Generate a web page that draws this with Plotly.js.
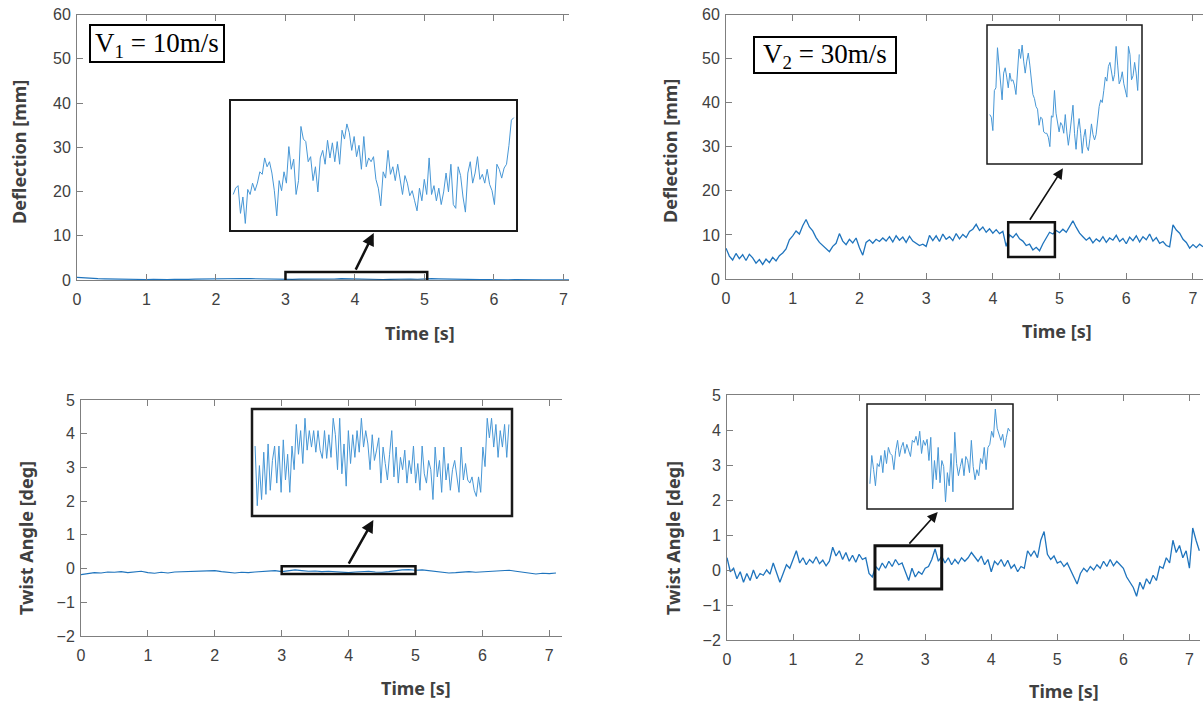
<!DOCTYPE html>
<html>
<head>
<meta charset="utf-8">
<script src="https://cdn.plot.ly/plotly-3.0.1.min.js"></script>
<style>html,body{margin:0;padding:0;background:#fff;}#chart{width:1203px;height:706px;}</style>
</head>
<body>
<div id="chart"></div>
<script>
// ---------- data ----------
// V1 = 10 m/s, deflection [mm], sampled every 0.1 s
const defV1 = [0.60,0.45,0.40,0.30,0.25,0.20,0.22,0.15,0.20,0.12,
0.10,0.15,0.10,0.12,0.18,0.10,0.15,0.20,0.22,0.25,
0.30,0.35,0.45,0.40,0.35,0.30,0.25,0.20,0.15,0.12,
0.10,0.15,0.20,0.18,0.25,0.20,0.28,0.22,0.30,0.25,
0.20,0.15,0.22,0.18,0.12,0.15,0.20,0.25,0.22,0.18,
0.28,0.30,0.25,0.20,0.22,0.15,0.12,0.10,0.08,0.10,
0.05,0.08,0.06,0.10,0.05,0.04,0.08,0.05,0.06,0.10,
0.08,0.05];
// V2 = 30 m/s, deflection [mm], sampled every 0.05 s
const defV2 = [7.0,5.2,4.3,5.8,4.6,5.5,4.2,5.6,4.8,3.6,
4.4,3.3,4.5,3.7,4.9,4.1,5.3,5.9,6.8,8.9,
9.8,10.9,10.2,12.1,13.5,11.8,10.9,9.4,8.3,7.6,
6.9,6.2,7.4,8.1,10.3,8.6,7.8,9.0,8.2,9.3,
7.1,5.4,8.3,8.9,8.1,9.0,8.5,9.3,8.6,9.6,
8.4,9.8,8.8,9.5,8.3,9.7,8.6,8.0,7.6,7.9,
7.4,9.9,8.7,9.8,8.5,10.2,9.0,9.6,8.7,10.3,
9.1,10.1,9.4,10.8,11.3,12.4,11.0,11.8,10.6,11.4,
10.4,11.2,10.3,10.8,7.4,10.0,9.4,10.3,9.1,8.6,
7.6,7.9,6.6,7.2,6.4,8.0,9.3,10.6,10.2,11.0,
10.5,11.3,10.6,11.8,13.2,11.7,10.4,9.6,8.8,9.4,
8.2,9.1,8.5,9.6,8.3,9.3,8.8,9.9,8.5,9.2,
8.0,9.5,8.7,9.8,8.4,9.6,8.9,10.2,8.6,9.4,
8.1,8.5,7.6,7.3,12.3,11.1,10.4,9.0,8.3,7.0,
7.8,7.1,7.9,7.3];
// V1 twist angle [deg], every 0.1 s
const twV1 = [-0.18,-0.14,-0.12,-0.13,-0.10,-0.11,-0.09,-0.12,-0.10,-0.08,
-0.12,-0.14,-0.11,-0.13,-0.10,-0.09,-0.08,-0.07,-0.06,-0.05,
-0.06,-0.09,-0.12,-0.13,-0.11,-0.12,-0.10,-0.08,-0.07,-0.06,
-0.09,-0.07,-0.04,-0.06,-0.08,-0.07,-0.09,-0.08,-0.10,-0.11,
-0.12,-0.10,-0.09,-0.08,-0.10,-0.11,-0.09,-0.06,-0.04,-0.03,
-0.05,-0.04,-0.06,-0.08,-0.11,-0.13,-0.12,-0.10,-0.09,-0.11,
-0.10,-0.08,-0.06,-0.07,-0.05,-0.08,-0.10,-0.12,-0.16,-0.14,
-0.15,-0.13];
// V2 twist angle [deg], every 0.05 s
const twV2 = [0.35,-0.05,0.05,-0.25,-0.05,-0.35,-0.10,-0.30,0.00,-0.25,
-0.10,-0.15,0.00,-0.12,0.20,-0.05,-0.35,-0.10,0.15,0.05,
0.30,0.55,0.20,0.35,0.15,0.30,0.20,0.38,0.18,0.28,
0.12,0.25,0.65,0.40,0.55,0.30,0.50,0.25,0.42,0.22,
0.45,0.30,0.35,-0.10,-0.20,0.10,0.00,0.20,0.05,0.25,
0.10,0.30,0.15,0.20,-0.05,-0.30,0.05,-0.20,-0.05,-0.12,
0.05,0.10,0.30,0.60,0.25,0.40,0.20,0.35,0.15,0.30,
0.18,0.35,0.25,0.35,0.50,0.38,0.25,0.40,0.15,0.30,
-0.05,0.25,0.15,0.30,0.10,0.28,0.05,0.15,-0.05,0.10,
0.05,0.55,0.40,0.55,0.35,0.85,1.10,0.45,0.30,0.40,
0.20,0.25,0.10,0.20,0.00,-0.15,-0.40,-0.10,0.05,-0.05,
0.10,0.00,0.15,0.05,0.25,0.10,0.30,0.12,0.25,0.15,
0.05,-0.20,-0.35,-0.50,-0.75,-0.35,-0.55,-0.25,-0.40,-0.15,
-0.30,0.10,0.05,0.35,0.20,0.85,0.50,0.70,0.35,0.55,
0.05,1.20,0.85,0.55];
// zoomed insets (relative height inside each inset box, 0 = bottom, 1 = top)
const insetDefV1 = [0.27,0.32,0.34,0.12,0.25,0.04,0.31,0.27,0.36,0.30,0.36,0.45,0.43,0.56,0.49,0.53,0.44,0.30,0.10,0.38,0.30,0.45,0.36,0.65,0.47,0.55,0.27,0.38,0.81,0.71,0.69,0.53,0.57,0.38,0.49,0.29,0.56,0.62,0.51,0.70,0.56,0.68,0.53,0.69,0.51,0.78,0.71,0.83,0.76,0.62,0.73,0.57,0.66,0.47,0.73,0.49,0.56,0.53,0.57,0.39,0.32,0.18,0.45,0.40,0.62,0.43,0.49,0.38,0.51,0.40,0.27,0.42,0.36,0.26,0.30,0.22,0.14,0.32,0.22,0.39,0.27,0.56,0.27,0.34,0.22,0.32,0.19,0.29,0.44,0.29,0.51,0.19,0.16,0.49,0.42,0.25,0.13,0.44,0.53,0.36,0.44,0.57,0.39,0.43,0.36,0.47,0.35,0.30,0.19,0.51,0.47,0.40,0.48,0.51,0.66,0.86,0.88];
const insetDefV2 = [0.35,0.33,0.23,0.53,0.55,0.85,0.72,0.58,0.46,0.66,0.70,0.63,0.55,0.66,0.60,0.61,0.57,0.50,0.72,0.84,0.77,0.87,0.75,0.66,0.75,0.81,0.72,0.58,0.50,0.47,0.41,0.39,0.27,0.33,0.32,0.22,0.21,0.21,0.18,0.11,0.34,0.33,0.53,0.36,0.27,0.22,0.29,0.27,0.21,0.35,0.22,0.12,0.21,0.32,0.42,0.21,0.09,0.24,0.32,0.21,0.06,0.18,0.24,0.11,0.08,0.17,0.28,0.20,0.16,0.20,0.32,0.41,0.46,0.44,0.53,0.63,0.60,0.71,0.74,0.67,0.60,0.65,0.86,0.72,0.58,0.61,0.67,0.58,0.52,0.48,0.86,0.80,0.61,0.64,0.74,0.66,0.53,0.80];
const insetTwV1 = [0.66,0.08,0.47,0.14,0.60,0.19,0.68,0.23,0.52,0.66,0.30,0.66,0.21,0.72,0.33,0.58,0.21,0.66,0.43,0.87,0.58,0.81,0.49,0.93,0.62,0.81,0.65,0.81,0.60,0.81,0.62,0.54,0.81,0.54,0.77,0.55,0.93,0.77,0.43,0.93,0.39,0.68,0.27,0.81,0.49,0.77,0.55,0.81,0.60,0.93,0.65,0.81,0.68,0.43,0.77,0.52,0.62,0.74,0.30,0.65,0.49,0.33,0.58,0.81,0.36,0.65,0.30,0.55,0.43,0.62,0.30,0.52,0.39,0.66,0.30,0.49,0.23,0.66,0.39,0.30,0.52,0.43,0.14,0.65,0.36,0.52,0.21,0.65,0.33,0.49,0.23,0.43,0.52,0.36,0.21,0.65,0.33,0.49,0.33,0.30,0.36,0.23,0.17,0.36,0.21,0.65,0.46,0.93,0.74,0.93,0.65,0.87,0.55,0.81,0.65,0.87,0.55,0.87];
const insetTwV2 = [0.23,0.51,0.37,0.21,0.43,0.40,0.51,0.34,0.56,0.43,0.59,0.53,0.51,0.37,0.56,0.66,0.50,0.59,0.64,0.53,0.62,0.56,0.50,0.66,0.64,0.70,0.61,0.75,0.53,0.66,0.61,0.67,0.46,0.69,0.18,0.46,0.27,0.59,0.24,0.46,0.40,0.05,0.34,0.21,0.53,0.15,0.74,0.43,0.31,0.40,0.48,0.31,0.50,0.46,0.34,0.66,0.40,0.27,0.37,0.31,0.48,0.43,0.59,0.37,0.59,0.62,0.75,0.69,0.97,0.78,0.72,0.66,0.72,0.59,0.69,0.78,0.75];
const xTicks = [0,1,2,3,4,5,6,7];
const xTickText = ['0','1','2','3','4','5','6','7'];
const defTicks = [0,10,20,30,40,50,60];
const twTicks = [-2,-1,0,1,2,3,4,5];
const labelV1 = 'V<sub>1</sub> = 10m/s';
const labelV2 = 'V<sub>2</sub> = 30m/s';
const yTitleDef = 'Deflection [mm]';
const yTitleTw = 'Twist Angle [deg]';
const xTitle = 'Time [s]';

// ---------- layout helpers ----------
const W = 1203, H = 706;
const px = x => x / W;
const py = y => 1 - y / H;
const LINE = '#1f74bd';
const INSET = '#4797d6';
const GRAY = '#7f7f7f';
const TXT = '#404040';
const tickFont = {family: 'Liberation Sans, Arial, sans-serif', size: 16, color: TXT};

function xa(d, r, anchor) {
  return {domain: d, range: r, anchor: anchor, tickvals: xTicks, ticktext: xTickText,
    showline: true, linecolor: GRAY, linewidth: 1, mirror: 'ticks', ticks: 'inside', ticklen: 6,
    tickcolor: GRAY, tickfont: tickFont, showgrid: false, zeroline: false, ticklabelstandoff: 5, fixedrange: true};
}
function ya(d, r, tv, anchor) {
  return {domain: d, range: r, anchor: anchor, tickvals: tv, showline: true, linecolor: GRAY, linewidth: 1,
    ticks: 'inside', ticklen: 6, tickcolor: GRAY, tickfont: tickFont, showgrid: false, zeroline: false,
    ticklabelstandoff: 2, fixedrange: true};
}
function hid(d, r, anchor) {
  return {domain: d, range: r, anchor: anchor, visible: false, fixedrange: true};
}

const traces = [
  {y: defV1, x0: 0, dx: 0.1, xaxis: 'x', yaxis: 'y', mode: 'lines', line: {color: LINE, width: 1.1}},
  {y: defV2, x0: 0, dx: 0.05, xaxis: 'x2', yaxis: 'y2', mode: 'lines', line: {color: LINE, width: 1.3}},
  {y: twV1, x0: 0, dx: 0.1, xaxis: 'x3', yaxis: 'y3', mode: 'lines', line: {color: LINE, width: 1.1}},
  {y: twV2, x0: 0, dx: 0.05, xaxis: 'x4', yaxis: 'y4', mode: 'lines', line: {color: LINE, width: 1.3}},
  {y: insetDefV1, x0: 0, dx: 1, xaxis: 'x5', yaxis: 'y5', mode: 'lines', line: {color: INSET, width: 1}},
  {y: insetDefV2, x0: 0, dx: 1, xaxis: 'x6', yaxis: 'y6', mode: 'lines', line: {color: INSET, width: 1}},
  {y: insetTwV1, x0: 0, dx: 1, xaxis: 'x7', yaxis: 'y7', mode: 'lines', line: {color: INSET, width: 1}},
  {y: insetTwV2, x0: 0, dx: 1, xaxis: 'x8', yaxis: 'y8', mode: 'lines', line: {color: INSET, width: 1}}
];

// inset boxes in pixels [x0, x1, y0, y1]
const insetBoxes = [[230, 517, 100, 231], [987, 1142, 25, 164], [252, 512, 409, 516], [867, 1013, 404, 509]];
const insetWidths = [2, 1.5, 2.5, 1.5];
const insetData = [insetDefV1, insetDefV2, insetTwV1, insetTwV2];

const layout = {
  width: W, height: H, margin: {l: 0, r: 0, t: 0, b: 0},
  paper_bgcolor: '#fff', plot_bgcolor: 'rgba(0,0,0,0)', showlegend: false,
  xaxis: xa([px(77), px(569)], [0, 7.08], 'y'),
  yaxis: ya([py(280), py(14.5)], [0, 60], defTicks, 'x'),
  xaxis2: xa([px(726), 1], [0, 7.15], 'y2'),
  yaxis2: ya([py(279), py(14.5)], [0, 60], defTicks, 'x2'),
  xaxis3: xa([px(81), px(562)], [0, 7.19], 'y3'),
  yaxis3: ya([py(636), py(400)], [-2, 5], twTicks, 'x3'),
  xaxis4: xa([px(727), px(1200)], [0, 7.16], 'y4'),
  yaxis4: ya([py(640), py(395)], [-2, 5], twTicks, 'x4'),
  shapes: [], annotations: []
};
insetBoxes.forEach((b, i) => {
  const n = insetData[i].length;
  layout['xaxis' + (5 + i)] = hid([px(b[0] + 2), px(b[1] - 2)], [-0.5, n - 0.5], 'y' + (5 + i));
  layout['yaxis' + (5 + i)] = hid([py(b[3]), py(b[2])], [-0.02, 1.02], 'x' + (5 + i));
  layout.shapes.push({type: 'rect', xref: 'paper', yref: 'paper', x0: px(b[0]), x1: px(b[1]), y0: py(b[3]), y1: py(b[2]),
    line: {color: '#1a1a1a', width: insetWidths[i]}, fillcolor: 'rgba(0,0,0,0)', layer: 'above'});
});

// zoom rectangles in data coordinates
const zoomRects = [
  {xref: 'x', yref: 'y', x0: 3.0, x1: 5.04, y0: -0.2, y1: 1.8, w: 2.5},
  {xref: 'x2', yref: 'y2', x0: 4.23, x1: 4.93, y0: 5.0, y1: 12.9, w: 2.5},
  {xref: 'x3', yref: 'y3', x0: 3.0, x1: 5.0, y0: -0.16, y1: 0.07, w: 2.5},
  {xref: 'x4', yref: 'y4', x0: 2.24, x1: 3.25, y0: -0.54, y1: 0.69, w: 3}
];
zoomRects.forEach(r => layout.shapes.push({type: 'rect', xref: r.xref, yref: r.yref, x0: r.x0, x1: r.x1, y0: r.y0, y1: r.y1,
  line: {color: '#111', width: r.w}, fillcolor: 'rgba(0,0,0,0)', layer: 'above'}));

// arrows: tail -> head (data coords)
const arrows = [
  {xr: 'x', yr: 'y', ax: 4.0, ay: 2.0, x: 4.27, y: 10.6, w: 2.5, s: 1.0},
  {xr: 'x2', yr: 'y2', ax: 4.54, ay: 13.1, x: 5.05, y: 25.1, w: 1.6, s: 1.3},
  {xr: 'x3', yr: 'y3', ax: 3.99, ay: 0.10, x: 4.37, y: 1.44, w: 2.5, s: 1.0},
  {xr: 'x4', yr: 'y4', ax: 2.74, ay: 0.71, x: 3.19, y: 1.66, w: 1.6, s: 1.3}
];
arrows.forEach(a => layout.annotations.push({xref: a.xr, yref: a.yr, axref: a.xr, ayref: a.yr, x: a.x, y: a.y, ax: a.ax, ay: a.ay,
  text: '', showarrow: true, arrowhead: 2, arrowsize: a.s, arrowwidth: a.w, arrowcolor: '#111', standoff: 0, startstandoff: 0}));

// velocity labels
const vBoxes = [{b: [90, 224, 25, 62], t: labelV1}, {b: [754, 896, 37, 73], t: labelV2}];
vBoxes.forEach(v => {
  const b = v.b;
  layout.shapes.push({type: 'rect', xref: 'paper', yref: 'paper', x0: px(b[0]), x1: px(b[1]), y0: py(b[3]), y1: py(b[2]),
    line: {color: '#000', width: 2}, fillcolor: '#fff', layer: 'above'});
  layout.annotations.push({xref: 'paper', yref: 'paper', x: px((b[0] + b[1]) / 2), y: py((b[2] + b[3]) / 2 + 1),
    xanchor: 'center', yanchor: 'middle', text: v.t, showarrow: false,
    font: {family: 'Liberation Serif, Times New Roman, serif', size: 27, color: '#000'}});
});

// axis titles
const titleFont = {family: 'Noto Sans, Open Sans, sans-serif', size: 18, color: TXT, weight: 'bold'};
[[420, 333], [1057, 331], [416, 688], [1064, 691]].forEach(p => layout.annotations.push({xref: 'paper', yref: 'paper',
  x: px(p[0]), y: py(p[1]), xanchor: 'center', yanchor: 'middle', text: xTitle, showarrow: false, font: titleFont}));
[[19, 152, yTitleDef], [670, 151, yTitleDef], [26, 538, yTitleTw], [673, 538, yTitleTw]].forEach(p => layout.annotations.push({
  xref: 'paper', yref: 'paper', x: px(p[0]), y: py(p[1]), xanchor: 'center', yanchor: 'middle', text: p[2], textangle: -90,
  showarrow: false, font: titleFont}));

Plotly.newPlot('chart', traces, layout, {staticPlot: true, displayModeBar: false});
</script>
</body>
</html>
